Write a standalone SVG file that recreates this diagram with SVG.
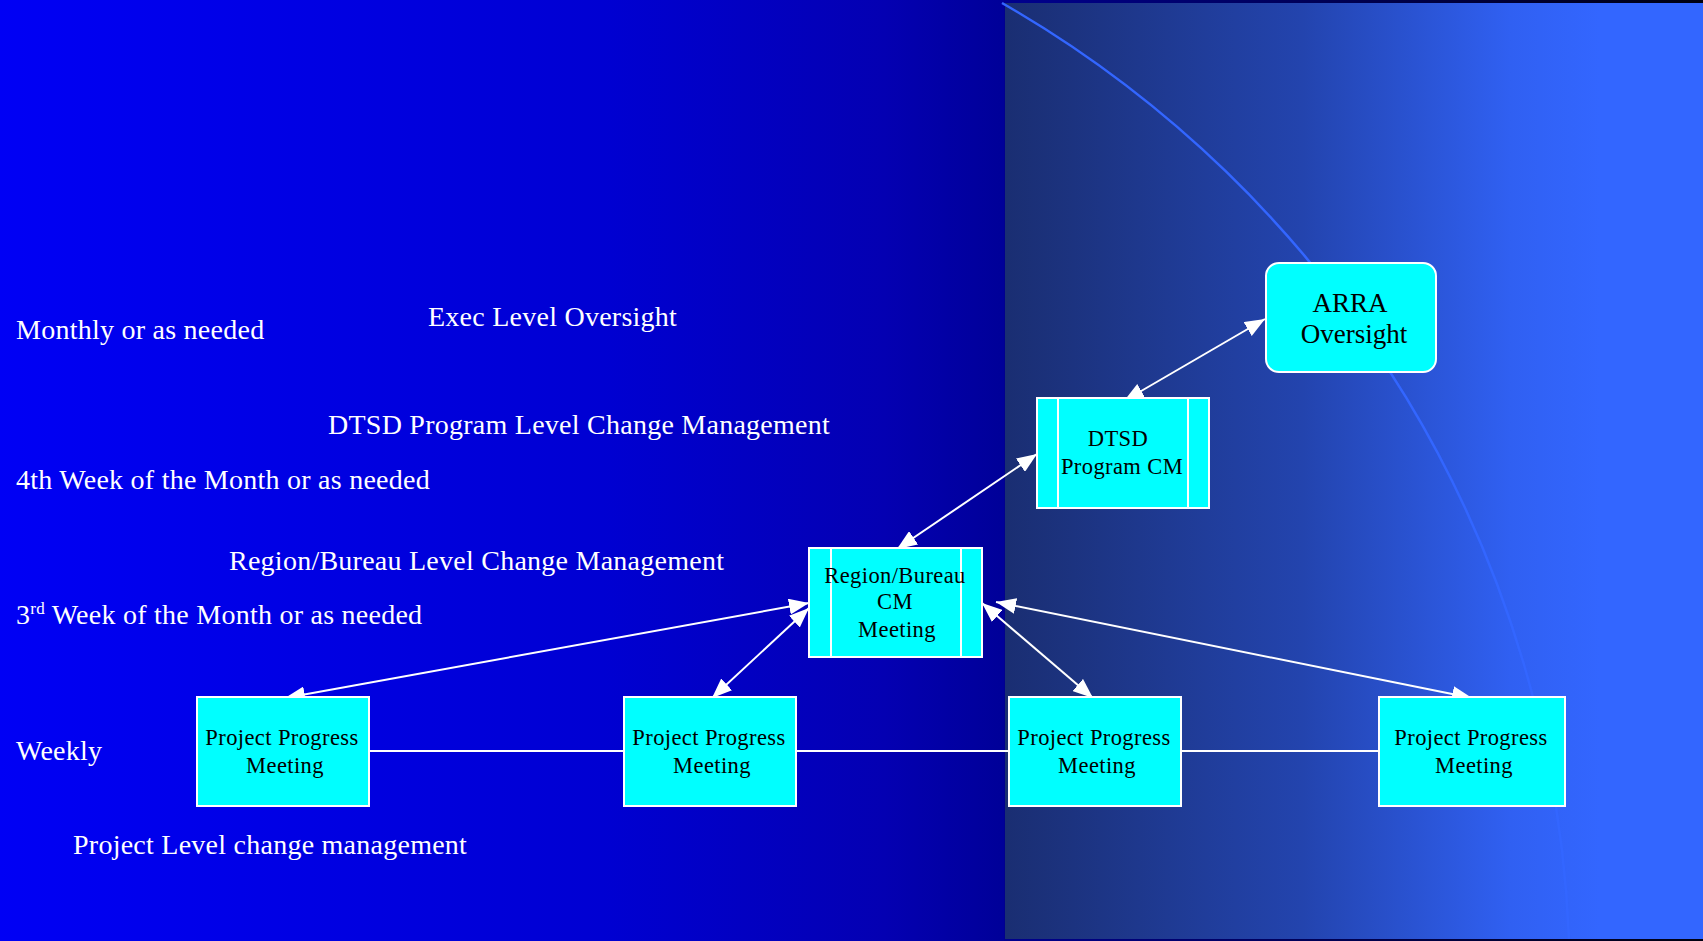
<svg xmlns="http://www.w3.org/2000/svg" width="1703" height="941" viewBox="0 0 1703 941">
  <defs>
    <linearGradient id="bgL" x1="0" y1="0" x2="1" y2="0">
      <stop offset="0" stop-color="#0000F5"/>
      <stop offset="0.6" stop-color="#0000D2"/>
      <stop offset="0.88" stop-color="#0400B2"/>
      <stop offset="1" stop-color="#000098"/>
    </linearGradient>
    <linearGradient id="bgR" gradientUnits="userSpaceOnUse" x1="1005" y1="0" x2="1600" y2="0">
      <stop offset="0" stop-color="#1A2E72"/>
      <stop offset="0.5" stop-color="#2344AE"/>
      <stop offset="0.85" stop-color="#3060F2"/>
      <stop offset="1" stop-color="#3366FF"/>
    </linearGradient>
    <linearGradient id="bgTop" gradientUnits="userSpaceOnUse" x1="1000" y1="0" x2="1703" y2="0">
      <stop offset="0" stop-color="#000090"/>
      <stop offset="1" stop-color="#000010"/>
    </linearGradient>
    <marker id="ah" viewBox="0 0 20 16" refX="20" refY="8" markerWidth="20" markerHeight="16" markerUnits="userSpaceOnUse" orient="auto-start-reverse">
      <path d="M0,0 L20,8 L0,16 z" fill="#FFFFFF"/>
    </marker>
    <style>
      .box { fill: #00FFFF; stroke: #FFFFFF; stroke-width: 2; }
      .bar { stroke: #FFFFFF; stroke-width: 2; fill: none; }
      .conn { stroke: #FFFFFF; stroke-width: 2; fill: none; }
      .arr { stroke: #FFFFFF; stroke-width: 2; fill: none; marker-start: url(#ah); marker-end: url(#ah); }
      .lbl { font-family: "Liberation Serif", "Times New Roman", serif; font-size: 28px; fill: #FFFFFF; letter-spacing: 0.25px; }
      .nt { font-family: "Liberation Serif", "Times New Roman", serif; font-size: 22.5px; fill: #000000; text-anchor: middle; letter-spacing: 0.4px; }
      .big { font-family: "Liberation Serif", "Times New Roman", serif; font-size: 27px; fill: #000000; text-anchor: middle; }
    </style>
  </defs>

  <!-- background -->
  <rect x="0" y="0" width="1005" height="941" fill="url(#bgL)"/>
  <rect x="1004" y="0" width="699" height="941" fill="url(#bgTop)"/>
  <rect x="1005" y="3" width="698" height="936" fill="url(#bgR)"/>
  <path d="M 1002 3 A 1130 1130 0 0 1 1569 939" fill="none" stroke="#3366FF" stroke-width="2.5"/>

  <!-- labels -->
  <g id="labels">
    <text class="lbl" x="16" y="339">Monthly or as needed</text>
    <text class="lbl" x="428" y="326">Exec Level Oversight</text>
    <text class="lbl" x="328" y="434">DTSD Program Level Change Management</text>
    <text class="lbl" x="16" y="489">4th Week of the Month or as needed</text>
    <text class="lbl" x="229" y="570">Region/Bureau Level Change Management</text>
    <text class="lbl" x="16" y="624">3<tspan font-size="17" dy="-10">rd</tspan><tspan dy="10"> Week of the Month or as needed</tspan></text>
    <text class="lbl" x="16" y="760">Weekly</text>
    <text class="lbl" x="73" y="854">Project Level change management</text>
  </g>

  <!-- connectors -->
  <g id="connectors">
    <line class="conn" x1="369" y1="751" x2="624" y2="751"/>
    <line class="conn" x1="796" y1="751" x2="1009" y2="751"/>
    <line class="conn" x1="1181" y1="751" x2="1379" y2="751"/>
    <line class="arr" x1="1265" y1="319" x2="1124" y2="401"/>
    <line class="arr" x1="1037" y1="454" x2="897" y2="549"/>
    <line class="arr" x1="809" y1="603" x2="285" y2="698"/>
    <line class="arr" x1="809" y1="608" x2="712" y2="698"/>
    <line class="arr" x1="982" y1="603" x2="1093" y2="698"/>
    <line class="arr" x1="996" y1="602" x2="1472" y2="698"/>
  </g>

  <!-- nodes -->
  <g id="arra">
    <rect class="box" x="1266" y="263" width="170" height="109" rx="13" ry="13"/>
    <text class="big" x="1350" y="312">ARRA</text>
    <text class="big" x="1354" y="343">Oversight</text>
  </g>
  <g id="dtsd">
    <rect class="box" x="1037" y="398" width="172" height="110"/>
    <line class="bar" x1="1058" y1="398" x2="1058" y2="508"/>
    <line class="bar" x1="1188" y1="398" x2="1188" y2="508"/>
    <text class="nt" x="1118" y="446">DTSD</text>
    <text class="nt" x="1122" y="474">Program CM</text>
  </g>
  <g id="region">
    <rect class="box" x="809" y="548" width="173" height="109"/>
    <line class="bar" x1="831" y1="548" x2="831" y2="657"/>
    <line class="bar" x1="961" y1="548" x2="961" y2="657"/>
    <text class="nt" x="895" y="583">Region/Bureau</text>
    <text class="nt" x="895" y="609">CM</text>
    <text class="nt" x="897" y="637">Meeting</text>
  </g>
  <g id="ppm1">
    <rect class="box" x="197" y="697" width="172" height="109"/>
    <text class="nt" x="282" y="745">Project Progress</text>
    <text class="nt" x="285" y="773">Meeting</text>
  </g>
  <g id="ppm2">
    <rect class="box" x="624" y="697" width="172" height="109"/>
    <text class="nt" x="709" y="745">Project Progress</text>
    <text class="nt" x="712" y="773">Meeting</text>
  </g>
  <g id="ppm3">
    <rect class="box" x="1009" y="697" width="172" height="109"/>
    <text class="nt" x="1094" y="745">Project Progress</text>
    <text class="nt" x="1097" y="773">Meeting</text>
  </g>
  <g id="ppm4">
    <rect class="box" x="1379" y="697" width="186" height="109"/>
    <text class="nt" x="1471" y="745">Project Progress</text>
    <text class="nt" x="1474" y="773">Meeting</text>
  </g>
</svg>
